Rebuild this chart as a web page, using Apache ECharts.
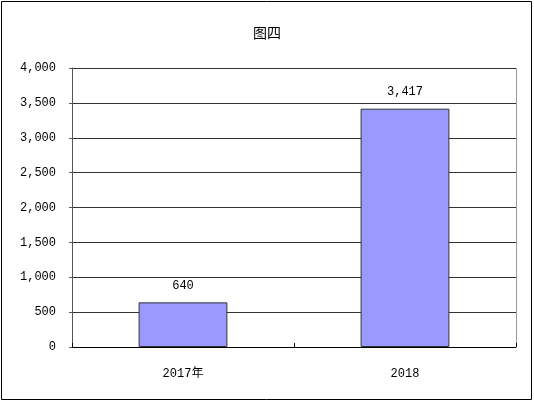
<!DOCTYPE html>
<html><head><meta charset="utf-8">
<script src="https://cdn.jsdelivr.net/npm/echarts@6/dist/echarts.min.js"></script>
<style>html,body{margin:0;padding:0;background:#fff}#c{width:534px;height:403px}</style>
</head><body><div id="c"></div>
<script>
const categories = ['2017年', '2018'];
const values = [640, 3417];
const yTicks = [0, 500, 1000, 1500, 2000, 2500, 3000, 3500, 4000];
const titleText = '图四';

const fmt = v => String(v).replace(/\B(?=(\d{3})+(?!\d))/g, ',');
const fontFam = '"Liberation Mono", "Noto Sans CJK SC", monospace';
const chart = echarts.init(document.getElementById('c'), null, {renderer: 'canvas'});
chart.setOption({
  animation: false,
  backgroundColor: '#fff',
  title: {text: titleText, left: 'center', top: 21,
    textStyle: {fontSize: 14, fontWeight: 'normal', color: '#000', fontFamily: '"Noto Sans CJK SC", sans-serif'}},
  graphic: [{type: 'rect', shape: {x: 1.5, y: 1.5, width: 530, height: 398},
    style: {fill: 'none', stroke: '#000', lineWidth: 1}, silent: true}],
  grid: {left: 72, right: 18, top: 68, bottom: 56},
  xAxis: {
    type: 'category', data: categories,
    axisLine: {lineStyle: {color: '#000', width: 1}},
    axisTick: {show: true, inside: true, length: 4, lineStyle: {color: '#000'}},
    axisLabel: {color: '#000', fontSize: 12, margin: 21, fontFamily: fontFam},
    splitLine: {show: false}
  },
  yAxis: {
    type: 'value', min: yTicks[0], max: yTicks[yTicks.length - 1], interval: yTicks[1] - yTicks[0],
    axisLine: {show: true, lineStyle: {color: '#555', width: 1}},
    axisTick: {show: true, length: 3, lineStyle: {color: '#555'}},
    axisLabel: {color: '#000', fontSize: 12, margin: 16, fontFamily: fontFam, formatter: fmt},
    splitLine: {show: true, lineStyle: {color: '#333', width: 1}}
  },
  series: [{
    type: 'bar', data: values, barWidth: '40%',
    itemStyle: {color: '#9999FF', borderColor: '#333', borderWidth: 1},
    label: {show: true, position: 'top', distance: 11, color: '#000', fontSize: 12,
      fontFamily: fontFam, formatter: p => fmt(p.value)}
  }]
});
// right border of plot area
chart.setOption({graphic: [{type: 'rect', shape: {x: 1.5, y: 1.5, width: 530, height: 398},
    style: {fill: 'none', stroke: '#000', lineWidth: 1}, silent: true},
  {type: 'line', shape: {x1: 516.5, y1: 68, x2: 516.5, y2: 347}, style: {stroke: '#999', lineWidth: 1}, silent: true}]});
</script></body></html>
